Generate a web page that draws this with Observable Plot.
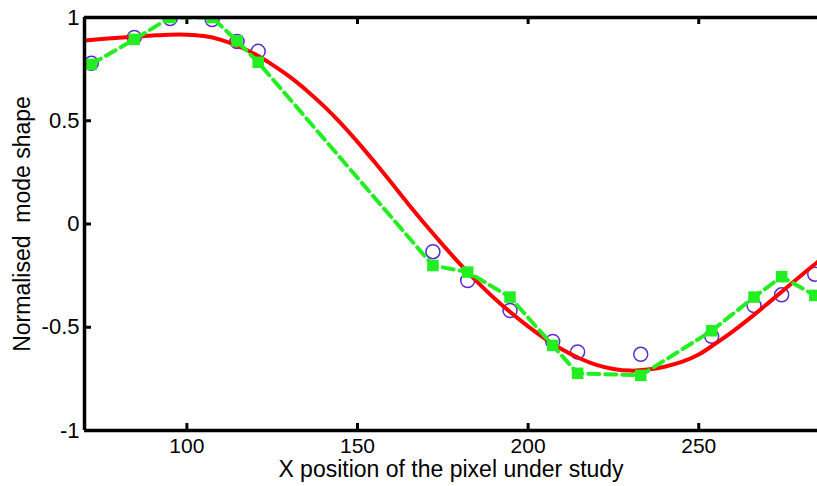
<!DOCTYPE html>
<html>
<head>
<meta charset="utf-8">
<script src="https://cdn.jsdelivr.net/npm/d3@7"></script>
<script src="https://cdn.jsdelivr.net/npm/@observablehq/plot@0.6"></script>
<style>
  html, body { margin: 0; padding: 0; background: #fff; }
  #chart svg { display: block; }
</style>
</head>
<body>
<div id="chart"></div>
<script>
// Measured points (open circles)
const circleX = [72, 84.6, 95.1, 107.4, 114.7, 120.9, 172.1, 182.3, 194.7, 207.2, 214.5, 233.0, 253.8, 266.2, 274.3, 284.0];
const circleY = [0.778, 0.903, 0.995, 0.99, 0.884, 0.836, -0.134, -0.274, -0.419, -0.569, -0.620, -0.631, -0.544, -0.395, -0.343, -0.243];

// Green squares (dashed line)
const squareX = [72, 84.6, 95.1, 107.4, 114.7, 120.9, 172.1, 182.3, 194.7, 207.2, 214.5, 233.0, 253.8, 266.2, 274.3, 284.0];
const squareY = [0.773, 0.894, 1.0, 1.0, 0.886, 0.783, -0.201, -0.233, -0.354, -0.588, -0.723, -0.733, -0.517, -0.354, -0.255, -0.346];

// Red fitted curve
const redX = [70, 80, 90, 95, 100, 105, 110, 115, 120, 125, 130, 135, 140, 145, 150, 155, 160, 165, 170, 175, 180, 185, 190, 195, 200, 205, 210, 215, 220, 225, 230, 235, 240, 245, 250, 255, 260, 265, 270, 275, 280, 285];
const redY = [0.889, 0.902, 0.913, 0.917, 0.917, 0.910, 0.892, 0.862, 0.822, 0.772, 0.715, 0.648, 0.573, 0.490, 0.398, 0.300, 0.198, 0.095, -0.005, -0.101, -0.193, -0.279, -0.358, -0.430, -0.496, -0.556, -0.608, -0.650, -0.682, -0.702, -0.710, -0.705, -0.691, -0.668, -0.632, -0.578, -0.520, -0.456, -0.388, -0.318, -0.249, -0.182];

const xTicks = [100, 150, 200, 250];
const yTicks = [-1, -0.5, 0, 0.5, 1];
const xDomain = [70, 284.8];
const yDomain = [-1, 1];
const xLabel = "X position of the pixel under study";
const yLabel = "Normalised  mode shape";

const circles = circleX.map((x, i) => ({x, y: circleY[i]}));
const squares = squareX.map((x, i) => ({x, y: squareY[i]}));
const red = redX.map((x, i) => ({x, y: redY[i]}));

const W = 817, H = 486;
const mL = 84, mR = 0, mT = 17, mB = 56;
const frameW = W - mL - mR, frameH = H - mT - mB;
const tickLen = 7;

const chart = Plot.plot({
  width: W,
  height: H,
  marginLeft: mL,
  marginRight: mR,
  marginTop: mT,
  marginBottom: mB,
  style: {fontFamily: "'Liberation Sans', Arial, sans-serif", background: "#fff", color: "#000"},
  x: {domain: xDomain, ticks: xTicks, tickFormat: d => String(d)},
  y: {domain: yDomain, ticks: yTicks, tickFormat: d => String(d)},
  marks: [
    Plot.axisX({ticks: xTicks, tickSize: 0, tickPadding: 8, fontSize: 21, label: null, tickFormat: d => String(d)}),
    Plot.axisY({ticks: yTicks, tickSize: 0, tickPadding: 5, fontSize: 22, label: null, tickFormat: d => String(d)}),
    Plot.text([xLabel], {frameAnchor: "bottom", dy: 30, lineAnchor: "top", textAnchor: "middle", fontSize: 23, fill: "#000"}),
    Plot.text([yLabel], {frameAnchor: "left", dx: -62, rotate: -90, textAnchor: "middle", fontSize: 23, fill: "#000"}),
    // inward ticks
    Plot.ruleX(xTicks, {x: d => d, insetTop: frameH - tickLen, stroke: "#000", strokeWidth: 3}),
    Plot.ruleX(xTicks, {x: d => d, insetBottom: frameH - tickLen, stroke: "#000", strokeWidth: 3}),
    Plot.ruleY(yTicks, {y: d => d, insetRight: frameW - tickLen, stroke: "#000", strokeWidth: 3}),
    // data
    Plot.dot(circles, {x: "x", y: "y", r: 7, stroke: "#5a2bd1", strokeWidth: 1.5, fill: "none", clip: true}),
    Plot.line(red, {x: "x", y: "y", curve: "catmull-rom", stroke: "#ff0000", strokeWidth: 4, clip: true}),
    Plot.line(squares, {x: "x", y: "y", stroke: "#22ee22", strokeWidth: 4, strokeDasharray: "11,6", clip: true}),
    Plot.dot(squares, {x: "x", y: "y", symbol: "square", r: 6.5, fill: "#22ee22", stroke: "none", clip: true}),
    // axis lines
    Plot.ruleX([xDomain[0]], {stroke: "#000", strokeWidth: 3.5}),
    Plot.ruleY(yDomain, {stroke: "#000", strokeWidth: 3.5})
  ]
});
document.getElementById("chart").appendChild(chart);
</script>
</body>
</html>
